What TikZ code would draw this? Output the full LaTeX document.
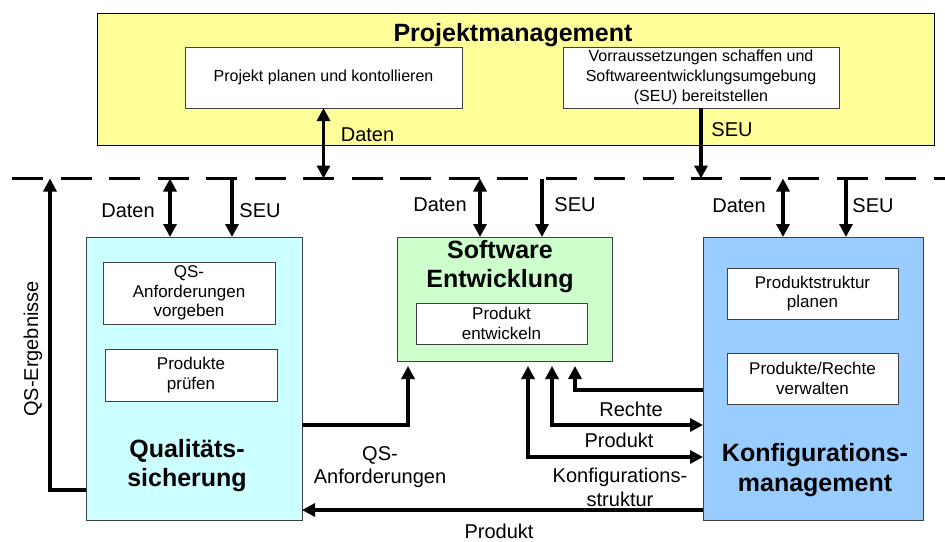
\documentclass[tikz,border=0pt]{standalone}
\usepackage{fontspec}
\setmainfont{Liberation Sans}
\usetikzlibrary{arrows.meta}
\definecolor{pmY}{HTML}{FFFF99}
\definecolor{qsC}{HTML}{CCFFFF}
\definecolor{seG}{HTML}{CCFFCC}
\definecolor{kmB}{HTML}{99CCFF}
\definecolor{bord}{HTML}{404040}
\tikzset{
  bigbox/.style={draw=bord, line width=1pt, inner sep=0pt, outer sep=0pt},
  inbox/.style={draw=bord, fill=white, line width=1pt, inner sep=0pt, outer sep=0pt, align=center, font=\fontsize{17}{19.5}\selectfont},
  lbl/.style={inner sep=0pt, outer sep=0pt, align=center, font=\fontsize{20}{24}\selectfont},
  ttl/.style={inner sep=0pt, outer sep=0pt, align=center, font=\bfseries\fontsize{25}{29.5}\selectfont},
  conn/.style={line width=3.3pt},
}
\begin{document}
\begin{tikzpicture}[x=1pt,y=-1pt,>={Triangle[length=13pt,width=13pt]}]
\useasboundingbox (0,0) rectangle (945,541);
% Projektmanagement
\node[bigbox, fill=pmY, draw=black, minimum width=837pt, minimum height=132pt] (pm) at (515.5,79) {};
\node[ttl, anchor=base] (pmt) at (513,41.5) {Projektmanagement};
\node[inbox, font=\fontsize{16}{20.3}\selectfont, minimum width=277pt, minimum height=61pt] (p1) at (323.5,77.5) {Projekt planen und kontollieren};
\node[inbox, font=\fontsize{16}{20.3}\selectfont, minimum width=276pt, minimum height=61pt] (p2) at (701,77.5) {Vorraussetzungen schaffen und\\Softwareentwicklungsumgebung\\(SEU) bereitstellen};
\node[lbl] (lpd) at (367.5,135) {Daten};
\node[lbl] (lps) at (732,130) {SEU};
% dashed line
\coordinate (dl0) at (12,178.5);
\coordinate (dl1) at (945,178.5);
\draw[line width=2.6pt, dash pattern=on 31pt off 17.5pt] (dl0) -- (dl1);
% main boxes
\node[bigbox, fill=qsC, minimum width=216pt, minimum height=283pt] (qs) at (194,378.5) {};
\node[bigbox, fill=seG, minimum width=215pt, minimum height=124pt] (se) at (504.5,299) {};
\node[bigbox, fill=kmB, minimum width=220pt, minimum height=283pt] (km) at (813,378.5) {};
% titles
\node[ttl] (qst) at (187,465.5) {Qualitäts-\\sicherung};
\node[ttl] (set) at (500,266.5) {Software\\Entwicklung};
\node[ttl] (kmt) at (815,470) {Konfigurations-\\management};
% inner boxes
\node[inbox, minimum width=172pt, minimum height=62pt] (q1) at (189,293) {QS-\\Anforderungen\\vorgeben};
\node[inbox, minimum width=172pt, minimum height=52pt] (q2) at (191,375) {Produkte\\prüfen};
\node[inbox, minimum width=171pt, minimum height=41pt] (s1) at (501.5,323.5) {Produkt\\entwickeln};
\node[inbox, minimum width=171pt, minimum height=51pt] (k1) at (812.5,293.5) {Produktstruktur\\planen};
\node[inbox, minimum width=171pt, minimum height=51pt] (k2) at (812.5,378.5) {Produkte/Rechte\\verwalten};
% labels
\node[lbl] (lqd) at (128,211) {Daten};
\node[lbl] (lqs) at (260,211) {SEU};
\node[lbl] (lsd) at (440,205) {Daten};
\node[lbl] (lss) at (575,205) {SEU};
\node[lbl] (lkd) at (739,206) {Daten};
\node[lbl] (lks) at (873,206) {SEU};
\node[lbl] (lre) at (631,409.5) {Rechte};
\node[lbl] (lpr) at (619,440) {Produkt};
\node[lbl] (lko) at (620,487) {Konfigurations-\\struktur};
\node[lbl, font=\fontsize{20}{23}\selectfont] (lqa) at (380,467) {QS-\\Anforderungen};
\node[lbl] (lpb) at (499,531) {Produkt};
\node[lbl, rotate=90] (lerg) at (33,349) {QS-Ergebnisse};
% arrow anchor points on the dashed line
\coordinate (aqd) at (170,178.5);
\coordinate (aqs) at (232,178.5);
\coordinate (asd) at (480,178.5);
\coordinate (ass) at (542,178.5);
\coordinate (akd) at (783,178.5);
\coordinate (aks) at (846,178.5);
\coordinate (aerg) at (50,178.5);
% connectors
\draw[conn,<->] (p1.south) -- (p1.south |- dl0);
\draw[conn,->] (p2.south) -- (p2.south |- dl0);
\draw[conn,<->] (aqd) -- (aqd |- qs.north);
\draw[conn,->] (aqs) -- (aqs |- qs.north);
\draw[conn,<->] (asd) -- (asd |- se.north);
\draw[conn,->] (ass) -- (ass |- se.north);
\draw[conn,<->] (akd) -- (akd |- km.north);
\draw[conn,->] (aks) -- (aks |- km.north);
\draw[conn,->] (qs.west |- 0,490) -| (aerg);
\draw[conn,->,shorten >=5pt] (qs.east |- 0,425) -| (se.south -| 408,0);
\draw[conn,->,shorten >=5pt] (km.west |- 0,390) -| (se.south -| 575,0);
\draw[conn,<->,shorten <=5pt] (se.south -| 552,0) |- (km.west |- 0,425);
\draw[conn,<->,shorten <=5pt] (se.south -| 528,0) |- (km.west |- 0,457);
\draw[conn,->] (km.west |- 0,510) -- (qs.east |- 0,510);
\end{tikzpicture}
\end{document}
